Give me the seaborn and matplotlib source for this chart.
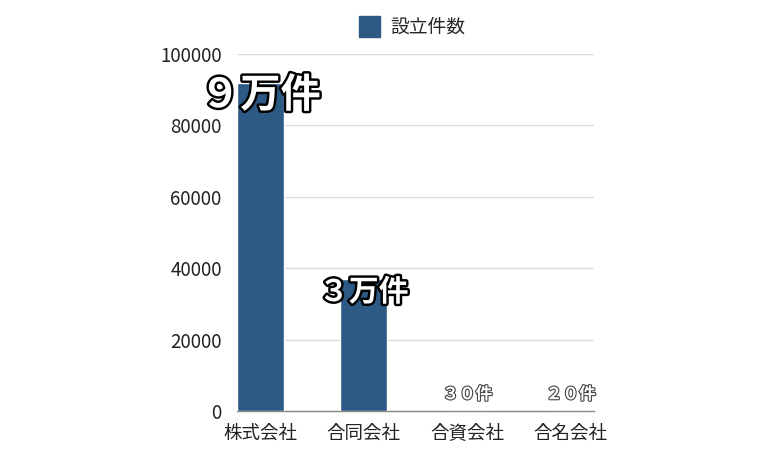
import matplotlib
matplotlib.use("Agg")
import matplotlib.pyplot as plt
import matplotlib.patheffects as pe
from matplotlib.patches import Patch
import seaborn as sns
import pandas as pd

categories = ["株式会社", "合同会社", "合資会社", "合名会社"]
values = [92000, 37000, 30, 20]
labels = ["９万件", "３万件", "３０件", "２０件"]
series_name = "設立件数"
yticks = [0, 20000, 40000, 60000, 80000, 100000]

sns.set_theme(style="white")
plt.rcParams['font.family'] = ['Noto Sans CJK JP', 'DejaVu Sans']

df = pd.DataFrame({"category": categories, "value": values})

fig = plt.figure(figsize=(7.68, 4.61), dpi=100)
ax = fig.add_axes([0.3086, 0.1085, 0.4648, 0.7744])
color = "#2D5985"
sns.barplot(data=df, x="category", y="value", color=color, width=0.45,
            saturation=1, ax=ax, zorder=3)
ax.set_xlim(-0.225, 3.225)
ax.set_ylim(0, 100000)
ax.set_yticks(yticks)
ax.set_yticklabels([str(t) for t in yticks], fontsize=13.5, color="#222222")
ax.tick_params(axis="x", labelsize=13.3, colors="#222222", pad=4)
ax.tick_params(axis="y", pad=11, length=0)
ax.set_xlabel("")
ax.set_ylabel("")
ax.grid(axis="y", color="#dddddd", linewidth=1, zorder=0)
for s in ["left", "right", "top"]:
    ax.spines[s].set_visible(False)
ax.spines["bottom"].set_color("#888888")
ax.spines["bottom"].set_linewidth(1)

# value labels
big_sizes = [29, 21.5]
for i, (v, lab) in enumerate(zip(values, labels)):
    if v > 1000:
        fs = big_sizes[i]
        ax.text(i, v - 3700, lab, ha="center", va="center", fontsize=fs,
                fontweight="bold", color="white", zorder=5,
                path_effects=[pe.withStroke(linewidth=3.5, foreground="black")])
    else:
        ax.text(i, 4700, lab, ha="center", va="center", fontsize=12,
                fontweight="bold", color="white", zorder=5,
                path_effects=[pe.withStroke(linewidth=1.6, foreground="#444444")])

handle = Patch(facecolor=color, edgecolor=color)
fig.legend([handle], [series_name], loc="center", bbox_to_anchor=(0.537, 0.941),
           frameon=False, fontsize=13.5, handlelength=1.1, handleheight=1.3,
           handletextpad=0.55)

fig.savefig("out.png", dpi=100)
